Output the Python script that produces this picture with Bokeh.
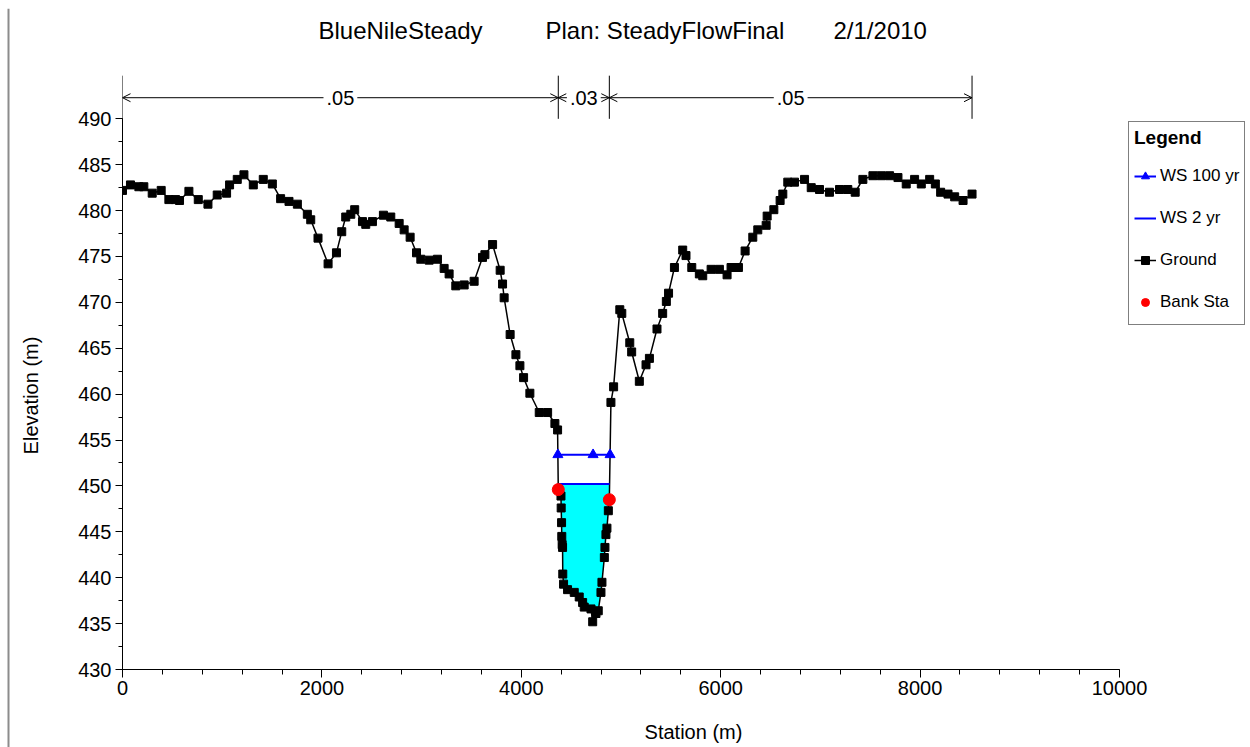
import numpy as np
from bokeh.plotting import figure
from bokeh.layouts import row, column
from bokeh.models import (Range1d, SingleIntervalTicker, Label, Arrow, OpenHead,
                          Legend, LegendItem)
from bokeh.embed import file_html
from bokeh.resources import INLINE

# ---------------- data ----------------
ground_sta = [0, 80, 164, 214, 298, 388, 465, 532, 572, 666, 760, 857, 950, 1044, 1074,
              1151, 1218, 1312, 1412, 1503, 1586, 1670, 1754, 1854, 1888, 1961, 2062, 2146,
              2199, 2239, 2290, 2329, 2407, 2440, 2507, 2617, 2691, 2775, 2825, 2885, 2949,
              2992, 3076, 3159, 3226, 3276, 3343, 3427, 3527, 3611, 3635, 3712, 3788, 3812,
              3828, 3888, 3946, 3986, 4023, 4086, 4180, 4264, 4337, 4364,
              4371, 4398, 4400, 4404, 4406, 4410, 4414, 4416, 4424, 4464, 4531, 4581, 4615,
              4631, 4699, 4716, 4749, 4772, 4799, 4809, 4833, 4839, 4849, 4859, 4873, 4883,
              4899, 4926, 4988, 5008, 5088, 5107, 5184, 5251, 5285, 5361, 5418, 5455, 5477,
              5536, 5619, 5652, 5710, 5786, 5820, 5904, 5987, 6064, 6104, 6178, 6245, 6322,
              6372, 6456, 6466, 6533, 6596, 6623, 6673, 6740, 6841, 6908, 6991, 7091, 7192,
              7275, 7349, 7426, 7527, 7610, 7694, 7778, 7861, 7945, 8012, 8096, 8153, 8206,
              8280, 8347, 8431, 8521]
ground_elev = [482.2, 482.8, 482.6, 482.6, 481.9, 482.2, 481.2, 481.2, 481.1, 482.1, 481.2,
               480.7, 481.7, 481.9, 482.8, 483.4, 483.9, 482.8, 483.4, 482.9, 481.3, 481.0,
               480.7, 479.6, 479.0, 477.0, 474.2, 475.4, 477.7, 479.3, 479.6, 480.1, 478.8,
               478.5, 478.8, 479.5, 479.3, 478.6, 477.9, 477.1, 475.4, 474.7, 474.6, 474.7,
               473.7, 473.1, 471.8, 471.9, 472.3, 474.9, 475.2, 476.3, 473.5, 472.0, 470.5,
               466.5, 464.3, 463.1, 461.8, 460.1, 458.0, 458.0, 456.8, 456.1,
               449.6, 448.9, 447.6, 446.0, 444.5, 443.6, 443.3, 440.4, 439.3, 438.7, 438.4,
               437.9, 437.3, 436.8, 436.6, 435.2, 436.1, 436.4, 438.4, 439.5, 442.2, 443.3,
               444.7, 445.4, 447.3, 448.5,
               459.1, 460.8, 469.2, 468.8, 465.6, 464.6, 461.4, 463.2, 463.9, 467.1, 468.8,
               470.1, 471.0, 473.8, 475.7, 475.1, 473.8, 473.1, 472.9, 473.6, 473.6, 473.0,
               473.8, 473.8, 475.6, 477.1, 477.9, 478.4, 479.4, 480.1, 481.1, 481.8, 483.1,
               483.1, 483.4, 482.5, 482.3, 482.0, 482.3, 482.3, 482.0, 483.4, 483.8, 483.8,
               483.8, 483.6, 482.9, 483.4, 482.9, 483.4, 482.9, 482.0, 481.8, 481.5, 481.1,
               481.8]
bank_sta = [4371, 4883]
bank_elev = [449.6, 448.5]
ws100_elev = 453.4
ws2_elev = 450.2
ws100_mid_sta = 4720
n_values = [".05", ".03", ".05"]
title_parts = ["BlueNileSteady", "Plan: SteadyFlowFinal", "2/1/2010"]

FONT = "Liberation Sans"
FRAME_GRAY = "#8c8c8c"

gx = np.array(ground_sta, float)
gy = np.array(ground_elev, float)
imin = int(np.argmin(gy))


def ws_extent(level):
    i = imin
    while gy[i] < level:
        i -= 1
    t = (level - gy[i + 1]) / (gy[i] - gy[i + 1])
    xl = gx[i + 1] + t * (gx[i] - gx[i + 1])
    j = imin
    while gy[j] < level:
        j += 1
    t = (level - gy[j - 1]) / (gy[j] - gy[j - 1])
    xr = gx[j - 1] + t * (gx[j] - gx[j - 1])
    return xl, xr, i, j


def strip(w, h):
    # blank pixel-scaled canvas used for outer texts / window border
    f = figure(width=w, height=h, x_range=Range1d(0, w), y_range=Range1d(0, h),
               output_backend="svg", toolbar_location=None, x_axis_type=None,
               y_axis_type=None, title=None, min_border_left=0, min_border_right=0,
               min_border_top=0, min_border_bottom=0)
    f.outline_line_color = None
    f.xgrid.visible = False
    f.ygrid.visible = False
    return f


# ---------------- window border strip (top) ----------------
ptop = strip(1250, 8)
ptop.segment([8, 8], [3, 3], [1250, 8], [3, 0], line_color=FRAME_GRAY, line_width=2)

# ---------------- y-axis title strip ----------------
pl = strip(50, 739)
pl.segment([8], [0], [8], [739], line_color=FRAME_GRAY, line_width=2)
pl.add_layout(Label(x=30, y=352, x_units="screen", y_units="screen", text="Elevation (m)",
                    angle=np.pi / 2, text_align="center", text_baseline="middle",
                    text_font=FONT, text_font_size="20px", text_color="black"))

# ---------------- x-axis title strip ----------------
pb = strip(1200, 37)
pb.add_layout(Label(x=571, y=16, x_units="screen", y_units="screen", text="Station (m)",
                    text_align="center", text_baseline="middle",
                    text_font=FONT, text_font_size="20px", text_color="black"))

# ---------------- main figure ----------------
p = figure(width=1200, height=702, x_range=Range1d(0, 11294), y_range=Range1d(430, 502.02),
           output_backend="svg", toolbar_location=None, title=None,
           min_border_left=72, min_border_right=2, min_border_top=0, min_border_bottom=41)
p.outline_line_color = None
p.xgrid.visible = False
p.ygrid.visible = False

# water fill (WS 2 yr)
xl2, xr2, i2, j2 = ws_extent(ws2_elev)
fill_x = [xl2] + list(gx[i2 + 1:j2]) + [xr2]
fill_y = [ws2_elev] + list(gy[i2 + 1:j2]) + [ws2_elev]
p.patch(fill_x, fill_y, fill_color="#00FFFF", line_color=None)

# ground
r_g_line = p.line(gx, gy, line_color="black", line_width=1.5)
r_g_pts = p.scatter(gx, gy, marker="square", size=8, fill_color="black", line_color="black")

# WS 2 yr
r_ws2 = p.line([xl2, xr2], [ws2_elev, ws2_elev], line_color="#0000FF", line_width=2)

# WS 100 yr
xl1, xr1, _, _ = ws_extent(ws100_elev)
r_ws1_line = p.line([xl1, xr1], [ws100_elev, ws100_elev], line_color="#0000FF", line_width=2)
r_ws1_pts = p.scatter([xl1, ws100_mid_sta, xr1], [ws100_elev] * 3, marker="triangle", size=10,
                      fill_color="#0000FF", line_color="#0000FF")

# bank stations
r_bank = p.scatter(bank_sta, bank_elev, marker="circle", size=12, fill_color="#FF0000",
                   line_color="#FF0000")

# Manning's n annotation
n_bounds = [gx[0], bank_sta[0], bank_sta[1], gx[-1]]
n_y = 492.3
p.segment(n_bounds, [490.0] * 4, n_bounds, [494.7] * 4, line_color="black", line_width=1)
for k in range(3):
    a, b = n_bounds[k], n_bounds[k + 1]
    p.add_layout(Arrow(x_start=a, y_start=n_y, x_end=b, y_end=n_y, line_color="black",
                       line_width=1,
                       start=OpenHead(size=8, line_width=1, line_color="black"),
                       end=OpenHead(size=8, line_width=1, line_color="black")))
    p.add_layout(Label(x=(a + b) / 2, y=n_y, text=n_values[k], text_align="center",
                       text_baseline="middle", text_font=FONT, text_font_size="20px",
                       background_fill_color="white", text_color="black", padding=3))

# axes
xa = p.xaxis[0]
xa.bounds = (0, 10000)
xa.ticker = SingleIntervalTicker(interval=2000, num_minor_ticks=5)
ya = p.yaxis[0]
ya.bounds = (430, 490)
ya.ticker = SingleIntervalTicker(interval=5, num_minor_ticks=2)
for ax in (xa, ya):
    ax.axis_line_color = "black"
    ax.major_tick_line_color = "black"
    ax.minor_tick_line_color = "black"
    ax.major_tick_in = 0
    ax.minor_tick_in = 0
    ax.major_label_text_font = FONT
    ax.major_label_text_font_size = "20px"
    ax.major_label_text_color = "black"
xa.major_tick_out = 8
xa.minor_tick_out = 5
xa.major_label_standoff = 3
ya.major_tick_out = 7
ya.minor_tick_out = 4
ya.major_label_standoff = 4

# title (frame-relative screen coordinates, inside the frame)
for xs, txt in zip([196, 423, 711], title_parts):
    p.add_layout(Label(x=xs, y=639, x_units="screen", y_units="screen", text=txt,
                       text_align="left", text_baseline="middle",
                       text_font=FONT, text_font_size="24px", text_color="black"))

# legend
legend = Legend(items=[
    LegendItem(label="WS 100 yr", renderers=[r_ws1_line, r_ws1_pts]),
    LegendItem(label="WS 2 yr", renderers=[r_ws2]),
    LegendItem(label="Ground", renderers=[r_g_line, r_g_pts]),
    LegendItem(label="Bank Sta", renderers=[r_bank]),
], location=(1006, 344), title="Legend")
legend.title_text_font = FONT
legend.title_text_font_style = "bold"
legend.title_text_font_size = "19px"
legend.label_text_font = FONT
legend.label_text_font_size = "17px"
legend.label_text_color = "black"
legend.title_text_color = "black"
legend.border_line_color = "black"
legend.border_line_width = 1
legend.background_fill_color = "white"
legend.background_fill_alpha = 1.0
legend.glyph_width = 22
legend.glyph_height = 20
legend.label_height = 34
legend.label_standoff = 4
legend.spacing = 8
legend.padding = 5
legend.margin = 0
legend.title_standoff = 10
p.add_layout(legend)

layout = column(ptop, row(pl, column(p, pb, spacing=0), spacing=0), spacing=0)
open("out.html", "w").write(file_html(layout, INLINE))
